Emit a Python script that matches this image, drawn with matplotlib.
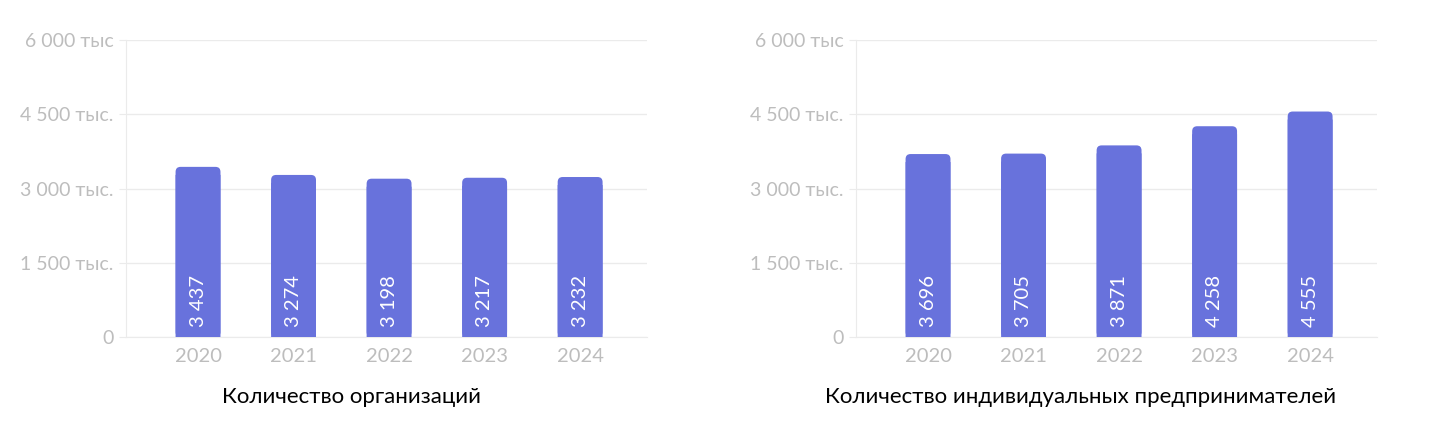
import matplotlib
matplotlib.use("Agg")
import matplotlib.pyplot as plt
from matplotlib.patches import FancyBboxPatch, Rectangle

plt.rcParams['font.family'] = ['Lato', 'DejaVu Sans']

years = ['2020', '2021', '2022', '2023', '2024']
orgs = [3437, 3274, 3198, 3217, 3232]
ips = [3696, 3705, 3871, 4258, 4555]
yticks = [0, 1500, 3000, 4500, 6000]
ytick_labels = ['0', '1 500 тыс.', '3 000 тыс.', '4 500 тыс.', '6 000 тыс']
titles = ['Количество организаций', 'Количество индивидуальных предпринимателей']

bar_color = '#6872dc'
grid_color = '#ebebeb'
tick_color = '#bdbdbd'
width = 0.47

fig = plt.figure(figsize=(14.33, 4.38), dpi=100)
W, H = 1433, 438
# axes boxes in pixels: left, top, right, bottom
boxes = [(126, 40, 647, 337), (856, 40, 1377, 337)]
title_x = [352, 1081]


def fmt(v):
    return f'{v:,}'.replace(',', ' ')


for (l, t, r, b), vals, title, tx in zip(boxes, [orgs, ips], titles, title_x):
    ax = fig.add_axes([l / W, 1 - b / H, (r - l) / W, (b - t) / H])
    ax.set_xlim(-0.754, 4.70)
    ax.set_ylim(0, 6000)
    # pixel scales for rounded corners
    ux = (4.70 + 0.754) / (r - l)
    uy = 6000 / (b - t)
    rad = 5 * ux
    for i, v in enumerate(vals):
        x0 = i - width / 2
        ax.add_patch(FancyBboxPatch((x0, 0), width, v,
                                    boxstyle=f'round,pad=0,rounding_size={rad}',
                                    mutation_aspect=uy / ux, snap=False,
                                    fc=bar_color, ec='none', zorder=3))
        ax.add_patch(Rectangle((x0, 0), width, v - 8 * uy, snap=False,
                               fc=bar_color, ec='none', zorder=3))
        ax.text(i, 200, fmt(v), rotation=90, ha='center', va='bottom',
                color='white', fontsize=14.5, zorder=4)
    ax.set_yticks(yticks)
    ax.set_yticklabels(ytick_labels)
    ax.set_xticks(range(len(years)))
    ax.set_xticklabels(years)
    ax.grid(axis='y', color=grid_color, lw=1, zorder=0)
    for s in ['top', 'right']:
        ax.spines[s].set_visible(False)
    for s in ['left', 'bottom']:
        ax.spines[s].set_color(grid_color)
    ax.tick_params(axis='y', colors=grid_color, labelcolor=tick_color,
                   labelsize=14, length=5, pad=4)
    ax.tick_params(axis='x', length=0, labelcolor=tick_color, labelsize=14.5, pad=8)
    fig.text(tx / W, 1 - 397 / H, title, ha='center', va='center',
             fontsize=16, color='black')

fig.savefig('out.png', dpi=100)
